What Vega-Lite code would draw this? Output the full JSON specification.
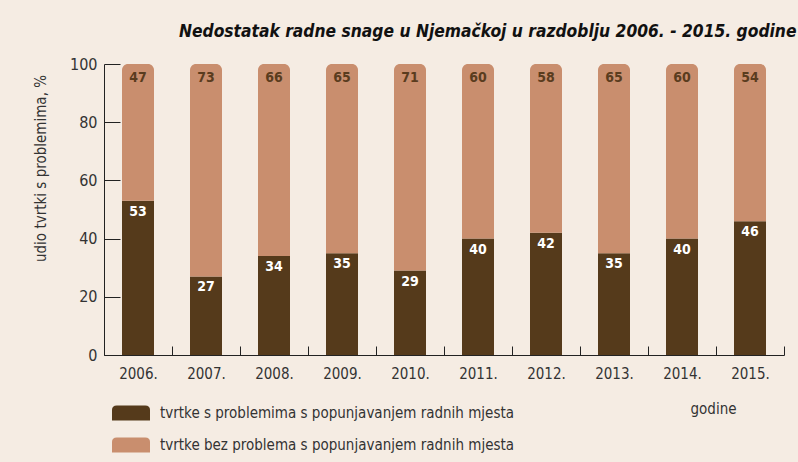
{
  "$schema": "https://vega.github.io/schema/vega-lite/v6.json",
  "width": 680,
  "height": 291,
  "autosize": "none",
  "padding": {"left": 104, "top": 64, "right": 14, "bottom": 107},
  "background": "#f5ece3",
  "config": {
    "view": {"stroke": null},
    "font": "DejaVu Sans Condensed"
  },
  "title": {
    "text": "Nedostatak radne snage u Njemačkoj u razdoblju 2006. - 2015. godine",
    "anchor": "end",
    "fontSize": 17.3,
    "fontWeight": "bold",
    "fontStyle": "italic",
    "color": "#111111",
    "offset": 16,
    "dx": 12
  },
  "data": {
    "values": [
      {"year": "2006.", "cat": "tvrtke s problemima s popunjavanjem radnih mjesta", "ord": 1, "value": 53},
      {"year": "2006.", "cat": "tvrtke bez problema s popunjavanjem radnih mjesta", "ord": 2, "value": 47},
      {"year": "2007.", "cat": "tvrtke s problemima s popunjavanjem radnih mjesta", "ord": 1, "value": 27},
      {"year": "2007.", "cat": "tvrtke bez problema s popunjavanjem radnih mjesta", "ord": 2, "value": 73},
      {"year": "2008.", "cat": "tvrtke s problemima s popunjavanjem radnih mjesta", "ord": 1, "value": 34},
      {"year": "2008.", "cat": "tvrtke bez problema s popunjavanjem radnih mjesta", "ord": 2, "value": 66},
      {"year": "2009.", "cat": "tvrtke s problemima s popunjavanjem radnih mjesta", "ord": 1, "value": 35},
      {"year": "2009.", "cat": "tvrtke bez problema s popunjavanjem radnih mjesta", "ord": 2, "value": 65},
      {"year": "2010.", "cat": "tvrtke s problemima s popunjavanjem radnih mjesta", "ord": 1, "value": 29},
      {"year": "2010.", "cat": "tvrtke bez problema s popunjavanjem radnih mjesta", "ord": 2, "value": 71},
      {"year": "2011.", "cat": "tvrtke s problemima s popunjavanjem radnih mjesta", "ord": 1, "value": 40},
      {"year": "2011.", "cat": "tvrtke bez problema s popunjavanjem radnih mjesta", "ord": 2, "value": 60},
      {"year": "2012.", "cat": "tvrtke s problemima s popunjavanjem radnih mjesta", "ord": 1, "value": 42},
      {"year": "2012.", "cat": "tvrtke bez problema s popunjavanjem radnih mjesta", "ord": 2, "value": 58},
      {"year": "2013.", "cat": "tvrtke s problemima s popunjavanjem radnih mjesta", "ord": 1, "value": 35},
      {"year": "2013.", "cat": "tvrtke bez problema s popunjavanjem radnih mjesta", "ord": 2, "value": 65},
      {"year": "2014.", "cat": "tvrtke s problemima s popunjavanjem radnih mjesta", "ord": 1, "value": 40},
      {"year": "2014.", "cat": "tvrtke bez problema s popunjavanjem radnih mjesta", "ord": 2, "value": 60},
      {"year": "2015.", "cat": "tvrtke s problemima s popunjavanjem radnih mjesta", "ord": 1, "value": 46},
      {"year": "2015.", "cat": "tvrtke bez problema s popunjavanjem radnih mjesta", "ord": 2, "value": 54}
    ]
  },
  "transform": [
    {"stack": "value", "groupby": ["year"], "sort": [{"field": "ord", "order": "ascending"}], "as": ["y0", "y1"]}
  ],
  "encoding": {
    "x": {
      "field": "year", "type": "ordinal",
      "scale": {"paddingInner": 0, "paddingOuter": 0},
      "axis": {
        "title": "godine", "titleX": 609, "titleY": 53, "titleAlign": "center", "titleBaseline": "middle",
        "titleFontSize": 15, "titleFontWeight": "normal", "titleColor": "#333333",
        "labelAngle": 0, "labelFontSize": 15, "labelColor": "#333333", "labelPadding": 20,
        "tickBand": "extent", "tickSize": -9, "tickColor": "#222222", "domainColor": "#222222"
      }
    }
  },
  "layer": [
    {
      "transform": [{"filter": "datum.ord == 1"}],
      "mark": {"type": "bar", "width": 32},
      "encoding": {
        "y": {"field": "y1", "type": "quantitative", "scale": {"domain": [0, 100]},
          "axis": {
            "title": "udio tvrtki s problemima, %", "titleFontSize": 15, "titleFontWeight": "normal", "titleColor": "#333333",
            "titleX": -64, "titleY": 104, "titleAlign": "center", "titleAngle": -90, "titleBaseline": "middle",
            "values": [0, 20, 40, 60, 80, 100], "grid": false,
            "labelFontSize": 16, "labelColor": "#333333", "labelPadding": 23,
            "tickSize": -16, "tickColor": "#222222", "domainColor": "#222222"
          }},
        "y2": {"field": "y0"},
        "color": {
          "field": "cat", "type": "nominal",
          "scale": {"domain": ["tvrtke s problemima s popunjavanjem radnih mjesta", "tvrtke bez problema s popunjavanjem radnih mjesta"], "range": ["#553a1b", "#c98e6e"]},
          "legend": {
            "title": null, "orient": "none", "legendX": 15, "legendY": 337, "direction": "vertical", "padding": 0,
            "symbolType": "M-1.6,0.63 L-1.6,-0.25 Q-1.6,-0.63 -1.2,-0.63 L1.2,-0.63 Q1.6,-0.63 1.6,-0.25 L1.6,0.63 Z",
            "symbolSize": 564, "symbolStrokeWidth": 0, "symbolOpacity": 1,
            "labelFontSize": 15, "labelColor": "#333333", "labelOffset": 17, "labelLimit": 500, "rowPadding": 12
          }
        }
      }
    },
    {
      "transform": [{"filter": "datum.ord == 2"}],
      "mark": {"type": "bar", "width": 32, "cornerRadiusTopLeft": 6, "cornerRadiusTopRight": 6},
      "encoding": {
        "y": {"field": "y1", "type": "quantitative"},
        "y2": {"field": "y0"},
        "color": {"field": "cat", "type": "nominal"}
      }
    },
    {
      "transform": [{"filter": "datum.ord == 1"}],
      "mark": {"type": "text", "dy": 11, "fontSize": 14, "fontWeight": "bold", "color": "#ffffff"},
      "encoding": {
        "y": {"field": "y1", "type": "quantitative"},
        "text": {"field": "value", "type": "quantitative"}
      }
    },
    {
      "transform": [{"filter": "datum.ord == 2"}],
      "mark": {"type": "text", "dy": 14, "fontSize": 14, "fontWeight": "bold", "color": "#5a3c1e"},
      "encoding": {
        "y": {"field": "y1", "type": "quantitative"},
        "text": {"field": "value", "type": "quantitative"}
      }
    }
  ]
}
